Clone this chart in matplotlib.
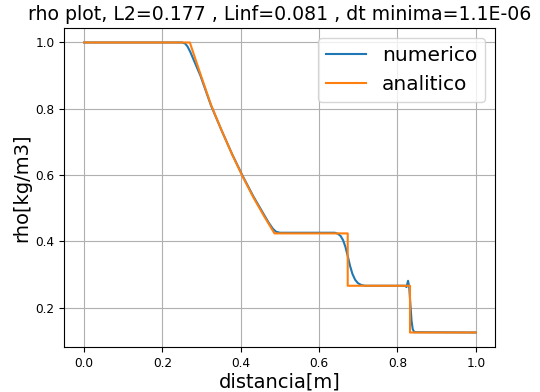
import matplotlib
matplotlib.use("Agg")
import matplotlib.pyplot as plt

# analytic solution
x_ana = [0.0, 0.270, 0.297, 0.324, 0.351, 0.378, 0.405, 0.432, 0.459, 0.486,
         0.673, 0.673, 0.832, 0.832, 1.0]
rho_ana = [1.0, 1.0, 0.905, 0.812, 0.735, 0.662, 0.595, 0.533, 0.477, 0.424,
           0.424, 0.266, 0.266, 0.125, 0.125]

# numerical solution
x_num = [0.0, 0.250, 0.258, 0.264, 0.271, 0.280, 0.297, 0.324, 0.351, 0.378,
         0.405, 0.432, 0.459, 0.472, 0.482, 0.490, 0.500, 0.640, 0.648, 0.655,
         0.661, 0.667, 0.673, 0.679, 0.685, 0.692, 0.699, 0.708, 0.718, 0.820,
         0.823, 0.827, 0.830, 0.833, 0.836, 0.839, 0.843, 1.0]
rho_num = [1.0, 1.0, 0.997, 0.988, 0.972, 0.947, 0.900, 0.810, 0.735, 0.663,
           0.597, 0.536, 0.481, 0.455, 0.438, 0.429, 0.426, 0.426, 0.423, 0.416,
           0.404, 0.384, 0.356, 0.326, 0.302, 0.284, 0.274, 0.268, 0.266, 0.266,
           0.262, 0.281, 0.262, 0.210, 0.160, 0.135, 0.126, 0.125]

title = "rho plot, L2=0.177 , Linf=0.081 , dt minima=1.1E-06"

fig = plt.figure(figsize=(5.4, 3.92), dpi=100)
ax = fig.add_axes([0.1194, 0.1148, 0.798, 0.8138])
ax.plot(x_num, rho_num, color="#1f77b4", lw=1.5, label="numerico")
ax.plot(x_ana, rho_ana, color="#ff7f0e", lw=1.5, label="analitico")
ax.grid(True)
ax.set_title(title, fontsize=13.6)
ax.set_xlabel("distancia[m]", fontsize=14, labelpad=2)
ax.set_ylabel("rho[kg/m3]", fontsize=14, labelpad=3)
ax.tick_params(labelsize=8.7)
ax.legend(loc="upper right", fontsize=14.5)
fig.savefig("out.png", dpi=100)
